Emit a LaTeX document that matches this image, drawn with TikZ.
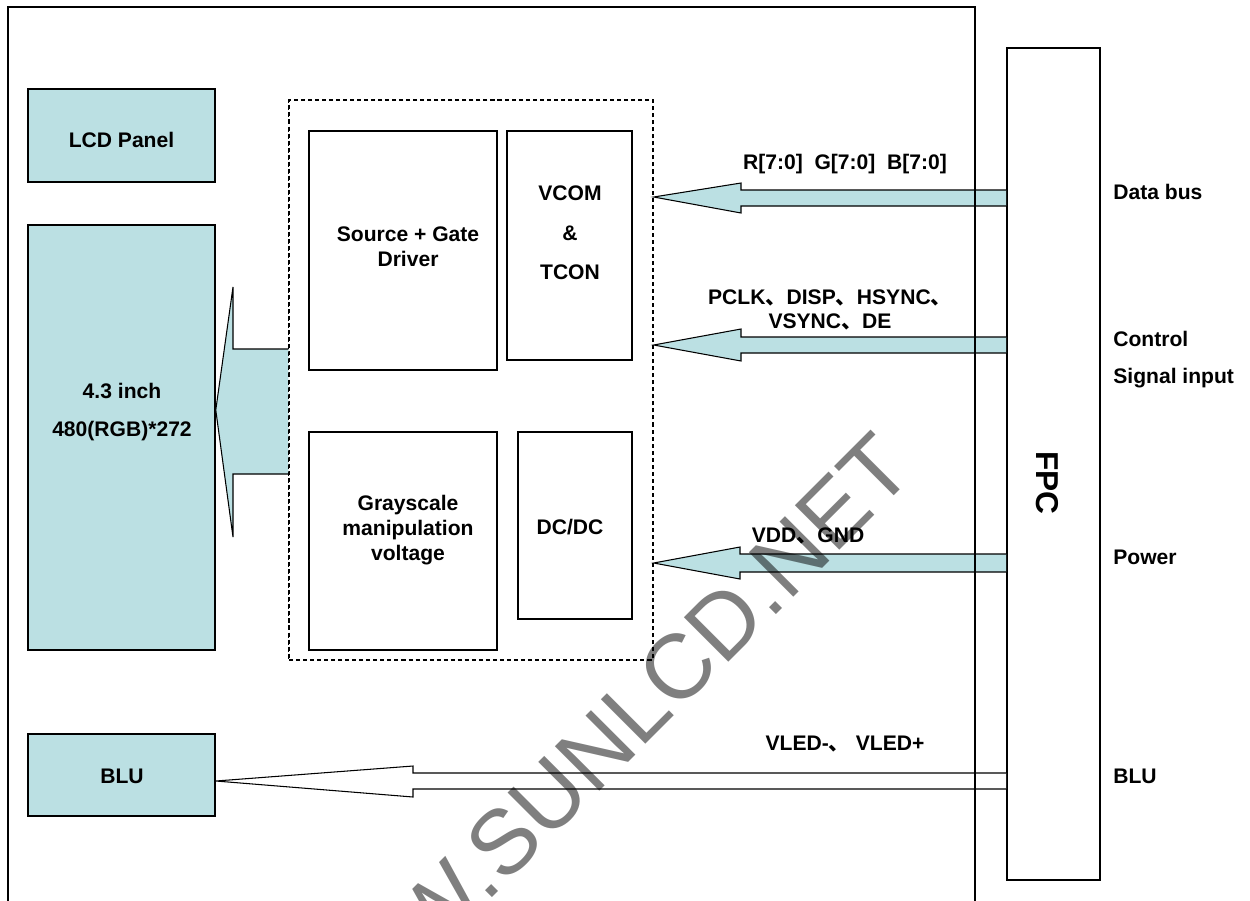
\documentclass[tikz,border=0pt]{standalone}
\usepackage{fontspec}
\setmainfont{Liberation Sans}
\newfontfamily\cjk{Noto Sans CJK SC}
\usetikzlibrary{calc}
\definecolor{lblue}{RGB}{187,224,227}
\newcommand{\dn}{{\cjk\bfseries 、}}
\begin{document}
\begin{tikzpicture}[x=0.02cm,y=-0.02cm,
  box/.style={draw=black, line width=0.9pt, inner sep=0pt},
  panelbox/.style={box, fill=lblue},
  lbl/.style={font=\bfseries\fontsize{12}{14}\selectfont, align=center, inner sep=0pt},
  sidelbl/.style={lbl, anchor=west},
  barrow/.style={draw=black, line width=0.6pt, fill=lblue, line join=miter},
  warrow/.style={draw=black, line width=0.6pt, fill=white, line join=miter}]
\useasboundingbox (0,0) rectangle (1250,900);
\clip (0,0) rectangle (1250,900);
\fill[white] (0,0) rectangle (1250,900);

% boxes
\node[panelbox, minimum width=3.74cm, minimum height=1.86cm] (lcdp) at (121.5,135.5) {};
\node[panelbox, minimum width=3.74cm, minimum height=8.5cm] (panel) at (121.5,437.5) {};
\node[panelbox, minimum width=3.74cm, minimum height=1.64cm] (blu) at (121.5,775) {};
\node[box, dashed, dash pattern=on 2.3pt off 1.7pt, line width=0.8pt, minimum width=7.28cm, minimum height=11.2cm] (dash) at (471,380) {};
\node[box, minimum width=3.76cm, minimum height=4.78cm] (src) at (403,250.5) {};
\node[box, minimum width=2.5cm, minimum height=4.58cm] (vcom) at (569.5,245.5) {};
\node[box, minimum width=3.76cm, minimum height=4.36cm] (gray) at (403,541) {};
\node[box, minimum width=2.28cm, minimum height=3.74cm] (dcdc) at (575,525.5) {};
\node[box, minimum width=1.86cm, minimum height=16.64cm] (fpc) at (1053.5,464) {};

% box texts
\node[lbl] (lcdp-t) at (121.5,140) {LCD Panel};
\node[lbl] (panel-t1) at (122,391) {4.3 inch};
\node[lbl] (panel-t2) at (122,431) {480(RGB)*272};
\node[lbl] (blu-t) at (122,776) {BLU};
\node[lbl] (src-t) at (408,247) {Source + Gate\\Driver};
\node[lbl] (vcom-t1) at (570,193) {VCOM};
\node[lbl] (vcom-t2) at (570,233) {\&};
\node[lbl] (vcom-t3) at (570,272) {TCON};
\node[lbl] (gray-t) at (408,530) {Grayscale\\manipulation\\voltage};
\node[lbl] (dcdc-t) at (570,527) {DC/DC};
\node[lbl, rotate=-90, font=\bfseries\fontsize{18}{20}\selectfont] (fpc-t) at (1047,483) {FPC};

% block arrows
\draw[barrow] (dash.west |- 0,349) -- (233,349) -- (233,287) -- (panel.east |- 0,410)
  -- (233,537) -- (233,474) -- (dash.west |- 0,474);
\draw[barrow] (fpc.west |- 0,190) -- (741,190) -- (741,183) -- (dash.east |- 0,197)
  -- (741,213) -- (741,206) -- (fpc.west |- 0,206);
\draw[barrow] (fpc.west |- 0,337) -- (741,337) -- (741,329) -- (dash.east |- 0,345)
  -- (741,361) -- (741,353) -- (fpc.west |- 0,353);
\draw[barrow] (fpc.west |- 0,554) -- (740,554) -- (740,547) -- (dash.east |- 0,563)
  -- (740,579) -- (740,572) -- (fpc.west |- 0,572);
\draw[warrow] (fpc.west |- 0,773) -- (413,773) -- (413,766) -- (blu.east |- 0,781)
  -- (413,797) -- (413,789) -- (fpc.west |- 0,789);
% redraw dashed edge over big arrow
\draw[dashed, dash pattern=on 2.3pt off 1.7pt, line width=0.8pt] (dash.north west) -- (dash.south west);

% outer frame
\coordinate (fbl) at (8,905);
\coordinate (fbr) at (975,905);
\draw[line width=0.9pt] (fbl) -- (8,7) -- (975,7) -- (fbr);

% arrow labels
\node[lbl] (l-data) at (845,164) {R[7:0]\ \ G[7:0]\ \ B[7:0]};
\node[lbl] (l-ctrl) at (830,310) {PCLK\dn DISP\dn HSYNC\dn\\VSYNC\dn DE};
\node[lbl] (l-pwr) at (808,536) {VDD\dn GND};
\node[lbl] (l-blu) at (845,744) {VLED-\dn\ VLED+};

% side labels
\node[sidelbl] (s-data) at (1113,192) {Data bus};
\node[sidelbl] (s-ctrl1) at (1113,339) {Control};
\node[sidelbl] (s-ctrl2) at (1113,378) {Signal input};
\node[sidelbl] (s-pwr) at (1113,557) {Power};
\node[sidelbl] (s-blu) at (1113,776) {BLU};

% watermark
\node[rotate=45, text=black, text opacity=0.5, inner sep=0pt, anchor=center,
  font=\fontsize{52}{52}\selectfont] (wm) at (590,756) {WWW.SUNLCD.NET};
\end{tikzpicture}
\end{document}
